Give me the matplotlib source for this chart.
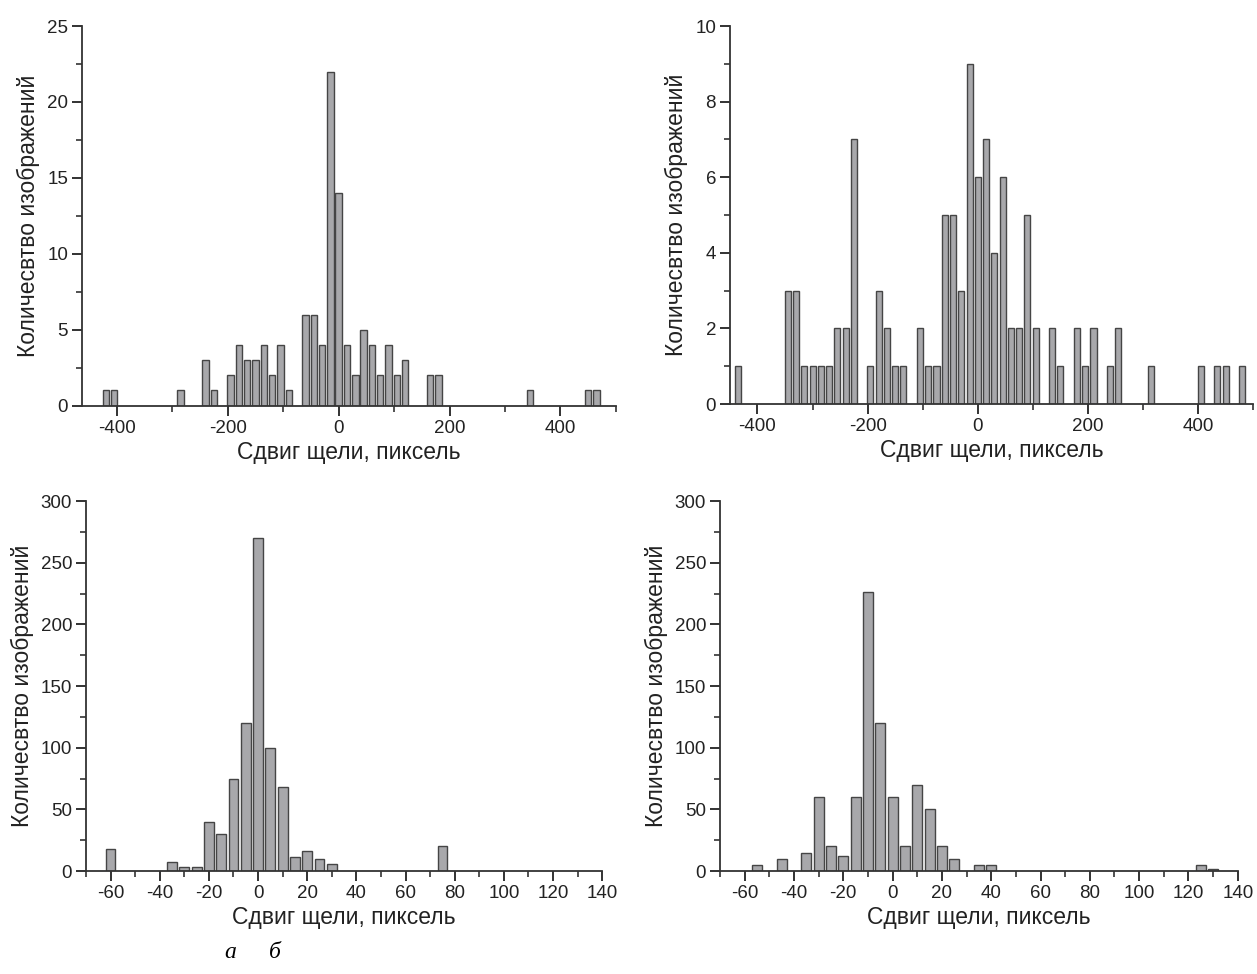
import matplotlib
matplotlib.use("Agg")
import matplotlib.pyplot as plt
from matplotlib.ticker import MultipleLocator

plt.rcParams['font.family'] = ['Liberation Sans', 'DejaVu Sans']
plt.rcParams['axes.unicode_minus'] = False

# ---- data ----
# top-left: bin width 15, centres
tl_x = [-420, -405, -285, -240, -225, -195, -180, -165, -150, -135, -120, -105, -90,
        -60, -45, -30, -15, 0, 15, 30, 45, 60, 75, 90, 105, 120, 165, 180, 345, 450, 465]
tl_y = [1, 1, 1, 3, 1, 2, 4, 3, 3, 4, 2, 4, 1,
        6, 6, 4, 22, 14, 4, 2, 5, 4, 2, 4, 2, 3, 2, 2, 1, 1, 1]

# top-right: bin width 15
tr_x = [-435, -345, -330, -315, -300, -285, -270, -255, -240, -225,
        -195, -180, -165, -150, -135, -105, -90, -75, -60, -45, -30,
        -15, 0, 15, 30, 45, 60, 75, 90, 105, 135, 150, 180, 195, 210,
        240, 255, 315, 405, 435, 450, 480]
tr_y = [1, 3, 3, 1, 1, 1, 1, 2, 2, 7,
        1, 3, 2, 1, 1, 2, 1, 1, 5, 5, 3,
        9, 6, 7, 4, 6, 2, 2, 5, 2, 2, 1, 2, 1, 2,
        1, 2, 1, 1, 1, 1, 1]

# bottom-left: bin width 5
bl_x = [-60, -35, -30, -25, -20, -15, -10, -5, 0, 5, 10, 15, 20, 25, 30, 75]
bl_y = [18, 7, 3, 3, 40, 30, 75, 120, 270, 100, 68, 11, 16, 10, 6, 20]

# bottom-right: bin width 5
br_x = [-55, -45, -35, -30, -25, -20, -15, -10, -5, 0, 5, 10, 15, 20, 25, 35, 40, 125, 130]
br_y = [5, 10, 15, 60, 20, 12, 60, 226, 120, 60, 20, 70, 50, 20, 10, 5, 5, 5, 2]

xlabel = "Сдвиг щели, пиксель"
ylabel = "Количесвтво изображений"

fig = plt.figure(figsize=(12.57, 9.74), dpi=100)

face = "#a8a8ab"
edge = "#454545"

def style(ax, xlim, ylim, xmaj, xmin, ymaj, ymin):
    ax.set_xlim(*xlim)
    ax.set_ylim(*ylim)
    ax.xaxis.set_major_locator(MultipleLocator(xmaj))
    ax.xaxis.set_minor_locator(MultipleLocator(xmin))
    ax.yaxis.set_major_locator(MultipleLocator(ymaj))
    ax.yaxis.set_minor_locator(MultipleLocator(ymin))
    for s in ("top", "right"):
        ax.spines[s].set_visible(False)
    for s in ("left", "bottom"):
        ax.spines[s].set_linewidth(1.3)
        ax.spines[s].set_color("#333333")
    ax.tick_params(which="major", direction="out", length=7, width=1.3,
                   labelsize=13.5, colors="#222222", pad=3)
    ax.tick_params(which="minor", direction="out", length=4, width=1.2, colors="#333333")
    ax.set_xlabel(xlabel, fontsize=16.5, color="#222222", labelpad=3)
    ax.set_ylabel(ylabel, fontsize=16.5, color="#222222", labelpad=5)

ax1 = fig.add_axes([0.0652, 0.5835, 0.4248, 0.3898])
ax1.bar(tl_x, tl_y, width=11.5, color=face, edgecolor=edge, linewidth=1.0)
style(ax1, (-463, 500), (0, 25), 200, 100, 5, 2.5)

ax2 = fig.add_axes([0.5807, 0.5852, 0.4163, 0.388])
ax2.bar(tr_x, tr_y, width=11.0, color=face, edgecolor=edge, linewidth=1.0)
style(ax2, (-450, 500), (0, 10), 200, 100, 2, 1)

ax3 = fig.add_axes([0.0684, 0.1057, 0.4107, 0.3799])
ax3.bar(bl_x, bl_y, width=4.0, color=face, edgecolor=edge, linewidth=1.0)
style(ax3, (-70, 140), (0, 300), 20, 10, 50, 25)

ax4 = fig.add_axes([0.5728, 0.1057, 0.4119, 0.3799])
ax4.bar(br_x, br_y, width=4.0, color=face, edgecolor=edge, linewidth=1.0)
style(ax4, (-70, 140), (0, 300), 20, 10, 50, 25)

fig.text(230 / 1257, 1 - 952 / 974, "а", fontsize=17, style="italic",
         family=["Liberation Serif", "DejaVu Serif"], ha="center", va="center")
fig.text(275 / 1257, 1 - 952 / 974, "б", fontsize=17, style="italic",
         family=["Liberation Serif", "DejaVu Serif"], ha="center", va="center")

fig.savefig("out.png", dpi=100)
